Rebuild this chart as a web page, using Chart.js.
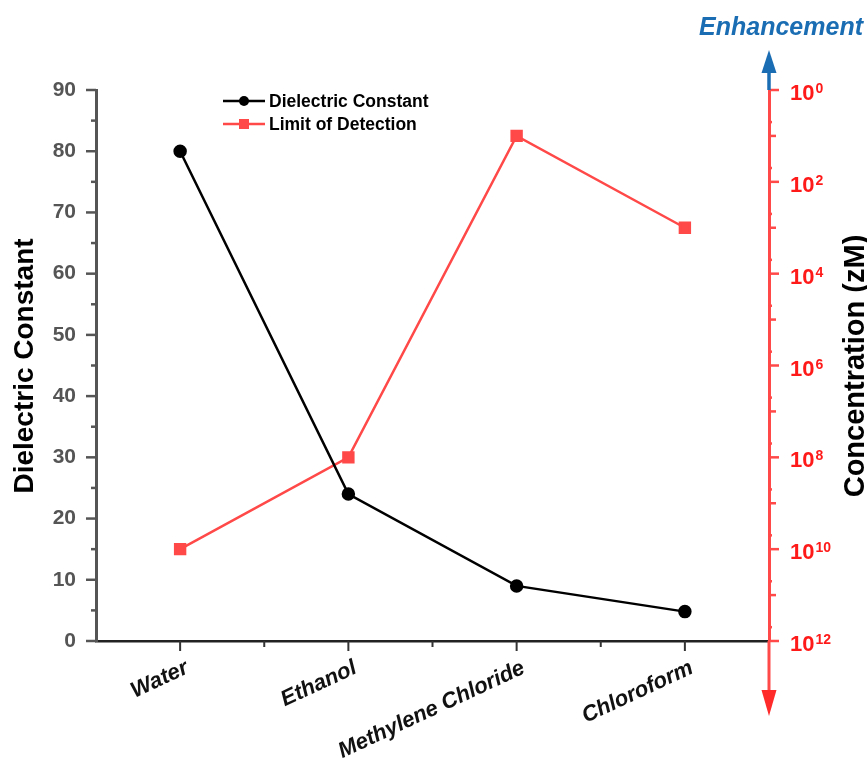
<!DOCTYPE html>
<html>
<head>
<meta charset="utf-8">
<script src="https://cdn.jsdelivr.net/npm/chart.js@4.4.1/dist/chart.umd.min.js"></script>
<style>
html,body{margin:0;padding:0;background:#fff;}
canvas{display:block;}
</style>
</head>
<body>
<canvas id="chart" width="867" height="770"></canvas>
<script>
const categories = ['Water', 'Ethanol', 'Methylene Chloride', 'Chloroform'];
const dielectric = [80, 24, 9, 4.8];
const detectionLimit = [1e10, 1e8, 1e1, 1e3]; // zM
const leftTicks = [0, 10, 20, 30, 40, 50, 60, 70, 80, 90];
const rightDecades = [0, 1, 2, 3, 4, 5, 6, 7, 8, 9, 10, 11, 12];

const FONT = 'Liberation Sans, Arial, sans-serif';
const RED = '#ff4848';
const BLUE = '#1a6db3';
const GRAY = '#555';

function line(ctx, x1, y1, x2, y2){
  ctx.beginPath(); ctx.moveTo(x1, y1); ctx.lineTo(x2, y2); ctx.stroke();
}

const decor = {
  id: 'decor',
  afterDraw(chart){
    const ctx = chart.ctx;
    const a = chart.chartArea;
    const sx = chart.scales.x, sl = chart.scales.y, sr = chart.scales.y2;
    ctx.save();

    // left ticks (major + minor)
    ctx.strokeStyle = GRAY; ctx.lineWidth = 2.5;
    leftTicks.forEach(v=>{
      const y = sl.getPixelForValue(v);
      line(ctx, a.left - 10, y, a.left, y);
      if (v < 90) {
        const ym = sl.getPixelForValue(v + 5);
        line(ctx, a.left - 5, ym, a.left, ym);
      }
    });

    // bottom ticks
    ctx.strokeStyle = '#333'; ctx.lineWidth = 2;
    categories.forEach((c, i)=>{
      const x = sx.getPixelForValue(i);
      line(ctx, x, a.bottom, x, a.bottom + 10);
      if (i < categories.length - 1) {
        const xm = (x + sx.getPixelForValue(i + 1)) / 2;
        line(ctx, xm, a.bottom, xm, a.bottom + 6);
      }
    });

    // right ticks + labels (10 with raised exponent)
    ctx.strokeStyle = RED; ctx.lineWidth = 2.5;
    rightDecades.forEach(k=>{
      const y = sr.getPixelForValue(Math.pow(10, k));
      line(ctx, a.right, y, a.right + (k % 2 === 0 ? 10 : 7), y);
      if (k < 12) {
        const y5 = sr.getPixelForValue(5 * Math.pow(10, k));
        line(ctx, a.right, y5, a.right + 3, y5);
      }
      if (k % 2 === 0) {
        ctx.fillStyle = '#ff1a1a';
        ctx.textAlign = 'left'; ctx.textBaseline = 'alphabetic';
        ctx.font = 'bold 22px ' + FONT;
        ctx.fillText('10', a.right + 21, y + 10);
        const w = ctx.measureText('10').width;
        ctx.font = 'bold 14px ' + FONT;
        ctx.fillText(String(k), a.right + 22 + w, y + 3);
      }
    });

    // blue arrow up (Enhancement)
    const ax = a.right;
    ctx.strokeStyle = BLUE; ctx.fillStyle = BLUE; ctx.lineWidth = 3.5;
    line(ctx, ax, a.top, ax, 68);
    ctx.beginPath(); ctx.moveTo(ax, 50); ctx.lineTo(ax - 7.5, 73); ctx.lineTo(ax + 7.5, 73); ctx.closePath(); ctx.fill();

    // red arrow down
    ctx.strokeStyle = RED; ctx.fillStyle = '#ff2a2a'; ctx.lineWidth = 3;
    line(ctx, ax, a.bottom, ax, 694);
    ctx.beginPath(); ctx.moveTo(ax, 716); ctx.lineTo(ax - 7.5, 690); ctx.lineTo(ax + 7.5, 690); ctx.closePath(); ctx.fill();

    // Enhancement label
    ctx.fillStyle = BLUE;
    ctx.font = 'italic bold 25px ' + FONT;
    ctx.textAlign = 'right'; ctx.textBaseline = 'middle';
    ctx.fillText('Enhancement', 863, 28);

    // axis titles
    ctx.fillStyle = '#000';
    ctx.textAlign = 'center'; ctx.textBaseline = 'alphabetic';
    ctx.font = 'bold 28px ' + FONT;
    ctx.save(); ctx.translate(33, 366); ctx.rotate(-Math.PI / 2); ctx.fillText('Dielectric Constant', 0, 0); ctx.restore();
    ctx.font = 'bold 29px ' + FONT;
    ctx.save(); ctx.translate(864, 366); ctx.rotate(-Math.PI / 2); ctx.fillText('Concentration (zM)', 0, 0); ctx.restore();

    // legend
    const rows = [101, 124];
    ctx.font = 'bold 17.5px ' + FONT;
    ctx.textAlign = 'left'; ctx.textBaseline = 'middle';
    chart.data.datasets.forEach((ds, i)=>{
      const y = rows[i];
      ctx.strokeStyle = ds.borderColor; ctx.fillStyle = ds.borderColor; ctx.lineWidth = 2.5;
      line(ctx, 223, y, 265, y);
      if (ds.pointStyle === 'circle') { ctx.beginPath(); ctx.arc(244, y, 5, 0, Math.PI * 2); ctx.fill(); }
      else { ctx.fillRect(239, y - 5, 10, 10); }
      ctx.fillStyle = '#000';
      ctx.fillText(ds.label, 269, y + 1);
    });
    ctx.restore();
  }
};

new Chart(document.getElementById('chart'), {
  type: 'line',
  data: {
    labels: categories,
    datasets: [
      {
        label: 'Dielectric Constant',
        data: dielectric,
        yAxisID: 'y',
        borderColor: '#000',
        backgroundColor: '#000',
        borderWidth: 2.5,
        pointStyle: 'circle',
        pointRadius: 5.5,
        tension: 0
      },
      {
        label: 'Limit of Detection',
        data: detectionLimit,
        yAxisID: 'y2',
        borderColor: RED,
        backgroundColor: RED,
        borderWidth: 2.5,
        pointStyle: 'rect',
        pointRadius: 7,
        tension: 0
      }
    ]
  },
  options: {
    responsive: false,
    animation: false,
    layout: { padding: { top: 90, left: 0, right: 0, bottom: 0 } },
    plugins: { legend: { display: false }, tooltip: { enabled: false } },
    scales: {
      x: {
        type: 'category',
        offset: true,
        grid: { display: true, drawOnChartArea: false, tickColor: 'transparent', tickLength: 10 },
        border: { color: '#222', width: 2.5 },
        ticks: {
          color: '#111',
          font: { family: FONT, size: 22, weight: 'bold', style: 'italic' },
          minRotation: 25, maxRotation: 25,
          padding: 4,
          labelOffset: 7,
          autoSkip: false
        },
        afterFit: (s)=>{ s.height = 129; }
      },
      y: {
        position: 'left',
        min: 0, max: 90,
        afterBuildTicks: (s)=>{ s.ticks = leftTicks.map(v=>({value: v})); },
        grid: { display: true, drawOnChartArea: false, tickColor: 'transparent', tickLength: 10 },
        border: { color: GRAY, width: 3 },
        ticks: { color: GRAY, padding: 10, font: { family: FONT, size: 21, weight: 'bold' } },
        afterFit: (s)=>{ s.width = 96; }
      },
      y2: {
        type: 'logarithmic',
        position: 'right',
        reverse: true,
        min: 1, max: 1e12,
        afterBuildTicks: (s)=>{ s.ticks = rightDecades.map(k=>({value: Math.pow(10, k)})); },
        grid: { display: false },
        border: { color: RED, width: 3 },
        ticks: { display: false },
        afterFit: (s)=>{ s.width = 98; }
      }
    }
  },
  plugins: [decor]
});
</script>
</body>
</html>
